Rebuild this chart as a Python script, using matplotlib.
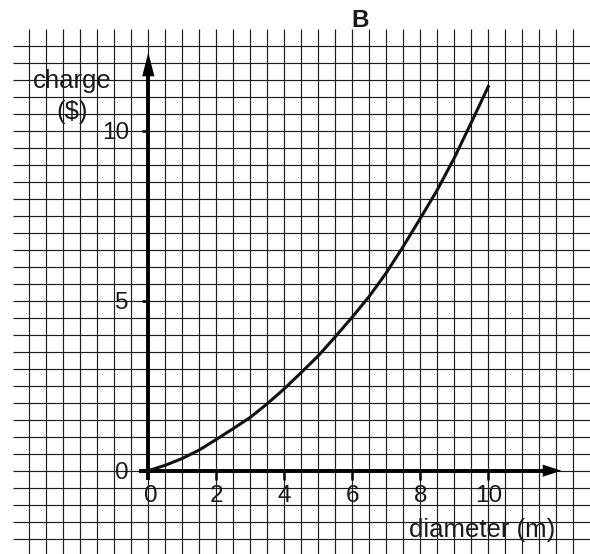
import numpy as np
import matplotlib
matplotlib.use("Agg")
import matplotlib.pyplot as plt

# ---- data ----
diameter = [0, 0.5, 1, 1.5, 2, 2.5, 3, 3.5, 4, 4.5, 5, 5.5, 6, 6.5, 7, 7.5, 8, 8.5, 9, 9.5, 10]
charge = [0, 0.16, 0.36, 0.61, 0.92, 1.24, 1.57, 1.97, 2.41, 2.89, 3.38, 3.94, 4.52, 5.13, 5.82, 6.6, 7.42, 8.26, 9.2, 10.24, 11.3]
x_ticks = [0, 2, 4, 6, 8, 10]
x_tick_labels = ["0", "2", "4", "6", "8", "10"]
y_ticks = [0, 5, 10]
y_tick_labels = ["0", "5", "10"]
title = "B"
x_label = "diameter (m)"
y_label = ["charge", "($)"]

plt.rcParams['font.family'] = ['Liberation Sans', 'DejaVu Sans']

W, H = 590, 554
fig = plt.figure(figsize=(W / 100, H / 100), dpi=100)
ax = fig.add_axes([0, 0, 1, 1])
ax.set_axis_off()

u = 34.0          # pixels per unit
x0px, y0px = 148.3, 470.7
ax.set_xlim(-x0px / u, (W - x0px) / u)
ax.set_ylim(-(H - y0px) / u, y0px / u)

# grid paper
gx = np.arange(-3.5, 12.51, 0.5)
gy = np.arange(-2.0, 12.51, 0.5)
ax.vlines(gx, -3.0, 13.0, colors='#1e1e1e', linewidth=0.85, zorder=1)
ax.hlines(gy, -3.97, 14.0, colors='#1e1e1e', linewidth=0.85, zorder=1)

# axes
axis_lw = 2.8
ax.plot([0, 0], [-0.27, 11.7], color='black', lw=axis_lw, solid_capstyle='butt', zorder=3)
ax.plot([-0.27, 11.7], [0, 0], color='black', lw=axis_lw, solid_capstyle='butt', zorder=3)
# arrow heads
ax.fill([-0.18, 0.18, 0], [11.6, 11.6, 12.3], color='black', zorder=4, lw=0)
ax.fill([11.6, 11.6, 12.15], [-0.18, 0.18, 0], color='black', zorder=4, lw=0)

# ticks
for t in x_ticks[1:]:
    ax.plot([t, t], [0, -0.26], color='black', lw=1.8, solid_capstyle='butt', zorder=3)
for t in y_ticks[1:]:
    ax.plot([0, -0.19], [t, t], color='black', lw=1.8, solid_capstyle='butt', zorder=3)

tick_fs = 17.5
for t, lab in zip(x_ticks, x_tick_labels):
    ax.text(t + (0.06 if t == 0 else 0), -0.91, lab, ha='center', va='baseline',
            fontsize=tick_fs, color='#1a1a1a', zorder=5)
for t, lab in zip(y_ticks, y_tick_labels):
    ax.text(-0.57, t - 0.23, lab, ha='right', va='baseline',
            fontsize=tick_fs, color='#1a1a1a', zorder=5)

# curve
ax.plot(diameter, charge, color='#111111', lw=2.2, zorder=4, solid_joinstyle='round')

# labels
lab_fs = 18.5
ax.text(-2.24, 11.25, y_label[0], ha='center', va='baseline', fontsize=lab_fs, color='#1a1a1a', zorder=5)
ax.text(-2.24, 10.34, y_label[1], ha='center', va='baseline', fontsize=lab_fs, color='#1a1a1a', zorder=5)
ax.text(9.82, -1.96, x_label, ha='center', va='baseline', fontsize=lab_fs, color='#1a1a1a', zorder=5)
ax.text(6.22, 13.06, title, ha='center', va='baseline', fontsize=17.5, fontweight='bold', color='#1a1a1a', zorder=5)

fig.savefig("out.png", dpi=100, facecolor='white')
